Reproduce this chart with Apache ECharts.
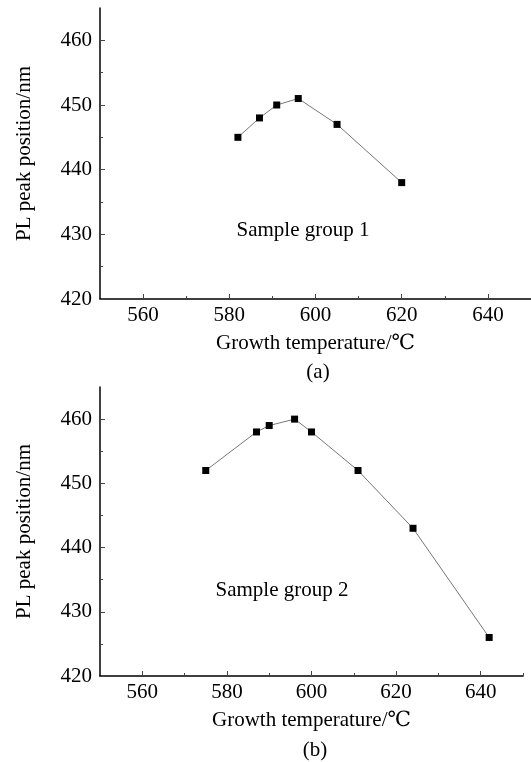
<!DOCTYPE html>
<html>
<head>
<meta charset="utf-8">
<script src="https://cdn.jsdelivr.net/npm/echarts@6/dist/echarts.min.js"></script>
<style>
html,body{margin:0;padding:0;background:#fff;}
#main{width:531px;height:762px;}
</style>
</head>
<body>
<div id="main"></div>
<script>
var myChart = echarts.init(document.getElementById('main'));

// data
var tempA = [582, 587, 591, 596, 605, 620];
var peakA = [445, 448, 450, 451, 447, 438];
var tempB = [575, 587, 590, 596, 600, 611, 624, 642];
var peakB = [452, 458, 459, 460, 458, 452, 443, 426];

var xMajor = [560, 580, 600, 620, 640];
var xMinor = [570, 590, 610, 630, 650];
var yMajor = [420, 430, 440, 450, 460];
var yMinor = [425, 435, 445, 455];

var FONT = "'Liberation Serif', 'Times New Roman', 'DejaVu Serif', 'Noto Sans CJK SC', serif";
var FS = 21;

function pairs(xs, ys){
	var out = [];
	for (var i = 0; i < xs.length; i++) {
		out.push([xs[i], ys[i]]);
	}
	return out;
}

function mainX(grid){
	return {
		type: 'value', gridIndex: grid, min: 550, max: 650, position: 'bottom',
		name: 'Growth temperature/\u2103', nameLocation: 'middle', nameGap: 34,
		nameTextStyle: {fontFamily: FONT, fontSize: FS, color: '#000'},
		axisLine: {show: true, lineStyle: {color: '#000', width: 1.5}},
		axisTick: {show: true, inside: true, length: 5, customValues: xMajor, lineStyle: {color: '#444'}},
		axisLabel: {customValues: xMajor, margin: 6, fontFamily: FONT, fontSize: FS, color: '#000'},
		splitLine: {show: false}
	};
}
function minorX(grid){
	return {
		type: 'value', gridIndex: grid, min: 550, max: 650, position: 'bottom',
		axisLine: {show: false},
		axisTick: {show: true, inside: true, length: 3, customValues: xMinor, lineStyle: {color: '#444'}},
		axisLabel: {show: false},
		splitLine: {show: false}
	};
}
function mainY(grid){
	return {
		type: 'value', gridIndex: grid, min: 420, max: 465, position: 'left',
		name: 'PL peak position/nm', nameLocation: 'middle', nameRotate: 90, nameGap: 65,
		nameTextStyle: {fontFamily: FONT, fontSize: FS, color: '#000'},
		axisLine: {show: true, lineStyle: {color: '#000', width: 1.5}},
		axisTick: {show: true, inside: true, length: 5, customValues: yMajor, lineStyle: {color: '#444'}},
		axisLabel: {customValues: yMajor, margin: 8, fontFamily: FONT, fontSize: FS, color: '#000'},
		splitLine: {show: false}
	};
}
function minorY(grid){
	return {
		type: 'value', gridIndex: grid, min: 420, max: 465, position: 'left',
		axisLine: {show: false},
		axisTick: {show: true, inside: true, length: 3, customValues: yMinor, lineStyle: {color: '#444'}},
		axisLabel: {show: false},
		splitLine: {show: false}
	};
}
function lineSeries(name, xi, yi, data){
	return {
		name: name, type: 'line', xAxisIndex: xi, yAxisIndex: yi,
		data: data,
		symbol: 'rect', symbolSize: 7,
		itemStyle: {color: '#000'},
		lineStyle: {color: '#777', width: 1},
		animation: false
	};
}
function label(text, x, y){
	return {
		type: 'text', x: x, y: y,
		style: {text: text, font: FS + 'px ' + FONT, fill: '#000', align: 'center', verticalAlign: 'middle'}
	};
}

var option = {
	backgroundColor: '#fff',
	animation: false,
	grid: [
		{left: 100, top: 8, width: 433, height: 291},
		{left: 100, top: 387, width: 423, height: 289}
	],
	xAxis: [mainX(0), minorX(0), mainX(1), minorX(1)],
	yAxis: [mainY(0), minorY(0), mainY(1), minorY(1)],
	series: [
		lineSeries('group 1', 0, 0, pairs(tempA, peakA)),
		lineSeries('group 2', 2, 2, pairs(tempB, peakB))
	],
	graphic: [
		label('Sample group 1', 303, 230),
		label('(a)', 318, 372),
		label('Sample group 2', 282, 590),
		label('(b)', 315, 750)
	]
};
myChart.setOption(option);
</script>
</body>
</html>
